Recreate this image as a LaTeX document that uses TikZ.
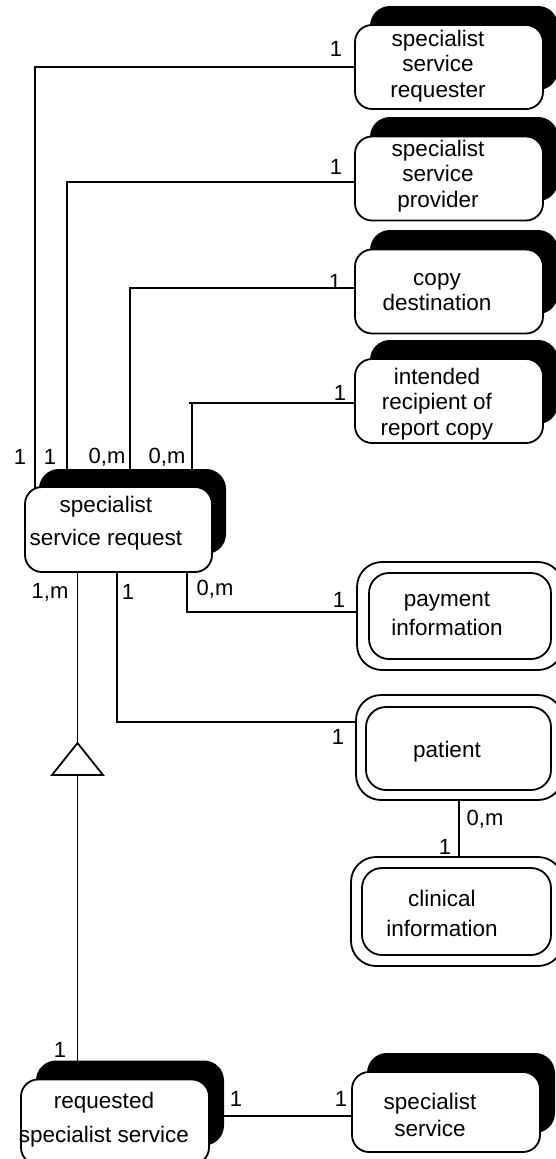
\documentclass[tikz,border=0pt]{standalone}
\usepackage{fontspec}
\setmainfont{Liberation Sans}
\pgfdeclarelayer{wires}
\pgfsetlayers{wires,main}

\tikzset{
  wire/.style={line width=1.8pt},
  shadowbox/.style={fill=black, rounded corners=20pt, minimum width=188pt,
    minimum height=84pt, inner sep=0pt},
  entbox/.style={draw, line width=1.8pt, fill=white, rounded corners=17pt,
    minimum width=188pt, minimum height=84pt, inner sep=0pt},
  outerbox/.style={draw, line width=1.8pt, fill=white, rounded corners=25pt, inner sep=0pt},
  innerbox/.style={draw, line width=1.8pt, fill=white, rounded corners=20pt, inner sep=0pt},
  txt/.style={align=center, inner sep=0pt, font=\fontsize{22.5}{25.5}\selectfont},
  wtxt/.style={align=center, inner sep=0pt, font=\fontsize{22.5}{32}\selectfont},
  card/.style={inner sep=0pt, font=\fontsize{22}{24}\selectfont}
}

\begin{document}
\begin{tikzpicture}[x=1pt, y=-1pt]
\useasboundingbox (0,0) rectangle (556,1159);

% ---- strong entities with a drop shadow ----
\node[shadowbox] (reqr-s) at (464,48) {};
\node[entbox]    (reqr)   at (449,67) {};
\node[txt]       (reqr-t) at (438,66) {specialist\\service\\requester};

\node[shadowbox] (prov-s) at (464,159) {};
\node[entbox]    (prov)   at (449,178.5) {};
\node[txt]       (prov-t) at (438,176) {specialist\\service\\provider};

\node[shadowbox] (copy-s) at (464,272) {};
\node[entbox]    (copy)   at (449,291.5) {};
\node[txt]       (copy-t) at (437,292) {copy\\destination};

\node[shadowbox] (inte-s) at (464,382) {};
\node[entbox]    (inte)   at (449,401) {};
\node[txt]       (inte-t) at (437,404) {intended\\recipient of\\report copy};

\node[shadowbox, minimum width=187pt, minimum height=85pt] (main-s) at (132.5,511.5) {};
\node[entbox, minimum width=187pt, minimum height=85pt] (main) at (118.5,529.5) {};
\node[wtxt, font=\fontsize{22.5}{33}\selectfont] (main-t) at (106,523) {specialist\\service request};

\node[shadowbox, minimum height=85pt] (rqd-s) at (130,1103) {};
\node[entbox, minimum height=85pt]    (rqd)   at (115,1122) {};
\node[wtxt, font=\fontsize{22.5}{34}\selectfont] (rqd-t) at (104,1120) {requested\\specialist service};

\node[shadowbox, minimum height=80pt] (svc-s) at (461,1093) {};
\node[entbox, minimum height=80pt]    (svc)   at (446,1112) {};
\node[txt, font=\fontsize{22.5}{27}\selectfont] (svc-t) at (430,1115) {specialist\\service};

% ---- weak entities (double border) ----
\node[outerbox, minimum width=206pt, minimum height=108pt] (pay) at (460,616) {};
\node[innerbox, minimum width=182pt, minimum height=86pt] (pay-in) at (460,616) {};
\node[wtxt, font=\fontsize{22.5}{29}\selectfont] (pay-t) at (447,614) {payment\\information};

\node[outerbox, minimum width=207pt, minimum height=105pt] (pat) at (459.5,747.5) {};
\node[innerbox, minimum width=185pt, minimum height=83pt] (pat-in) at (458.5,748.5) {};
\node[wtxt] (pat-t) at (447,752) {patient};

\node[outerbox, minimum width=212pt, minimum height=109pt] (clin) at (457,911.5) {};
\node[innerbox, minimum width=189pt, minimum height=87pt] (clin-in) at (456.5,911.5) {};
\node[wtxt, font=\fontsize{22.5}{30}\selectfont] (clin-t) at (442,913) {clinical\\information};

% ---- generalisation triangle ----
\coordinate (apex) at (77.5,743);
\coordinate (bl) at (52,775);
\coordinate (br) at (103,775);
\coordinate (bm) at (77.5,775);
\draw[wire, fill=white, line join=miter] (apex) -- (bl) -- (br) -- cycle;

% ---- bend points of the connectors ----
\coordinate (k1) at (35,67);
\coordinate (k2) at (67,182);
\coordinate (k3) at (130,288);
\coordinate (k4) at (192,403);
\coordinate (k4t) at (189,403);
\coordinate (k5) at (187,612);
\coordinate (k6) at (117,722);
\coordinate (k7) at (459,850);
\coordinate (k9) at (300,1116);

\begin{pgfonlayer}{wires}
  \draw[wire] (k1 -| reqr.center) -- (k1) -- (k1 |- main.center);
  \draw[wire] (k2 -| prov.center) -- (k2) -- (k2 |- main.center);
  \draw[wire] (k3 -| copy.center) -- (k3) -- (k3 |- main.center);
  \draw[wire] (k4 -| inte.center) -- (k4t);
  \draw[wire] (k4) -- (k4 |- main.center);
  \draw[wire] (k5 |- main.center) -- (k5) -- (k5 -| pay.center);
  \draw[wire] (k6 |- main.center) -- (k6) -- (k6 -| pat.center);
  \draw[wire] (k7 |- pat.center) -- (k7 |- clin.center);
  \draw[wire] (apex |- main.center) -- (apex);
  \draw[wire] (bm) -- (bm |- rqd.center);
  \draw[wire] (k9 -| rqd.center) -- (k9 -| svc.center);
\end{pgfonlayer}

% ---- cardinalities ----
\node[card] (c1)  at (336,49)  {1};
\node[card] (c2)  at (336,167) {1};
\node[card] (c3)  at (335,282) {1};
\node[card] (c4)  at (340,393) {1};
\node[card] (c5)  at (20,457)  {1};
\node[card] (c6)  at (50,457)  {1};
\node[card] (c7)  at (107,457) {0,m};
\node[card] (c8)  at (167,457) {0,m};
\node[card] (c9)  at (50,592)  {1,m};
\node[card] (c10) at (128,592) {1};
\node[card] (c11) at (215,589) {0,m};
\node[card] (c12) at (339,600) {1};
\node[card] (c13) at (338,737) {1};
\node[card] (c14) at (485,819) {0,m};
\node[card] (c15) at (445,847) {1};
\node[card] (c16) at (60,1050) {1};
\node[card] (c17) at (236,1099) {1};
\node[card] (c18) at (341,1099) {1};
\end{tikzpicture}
\end{document}
